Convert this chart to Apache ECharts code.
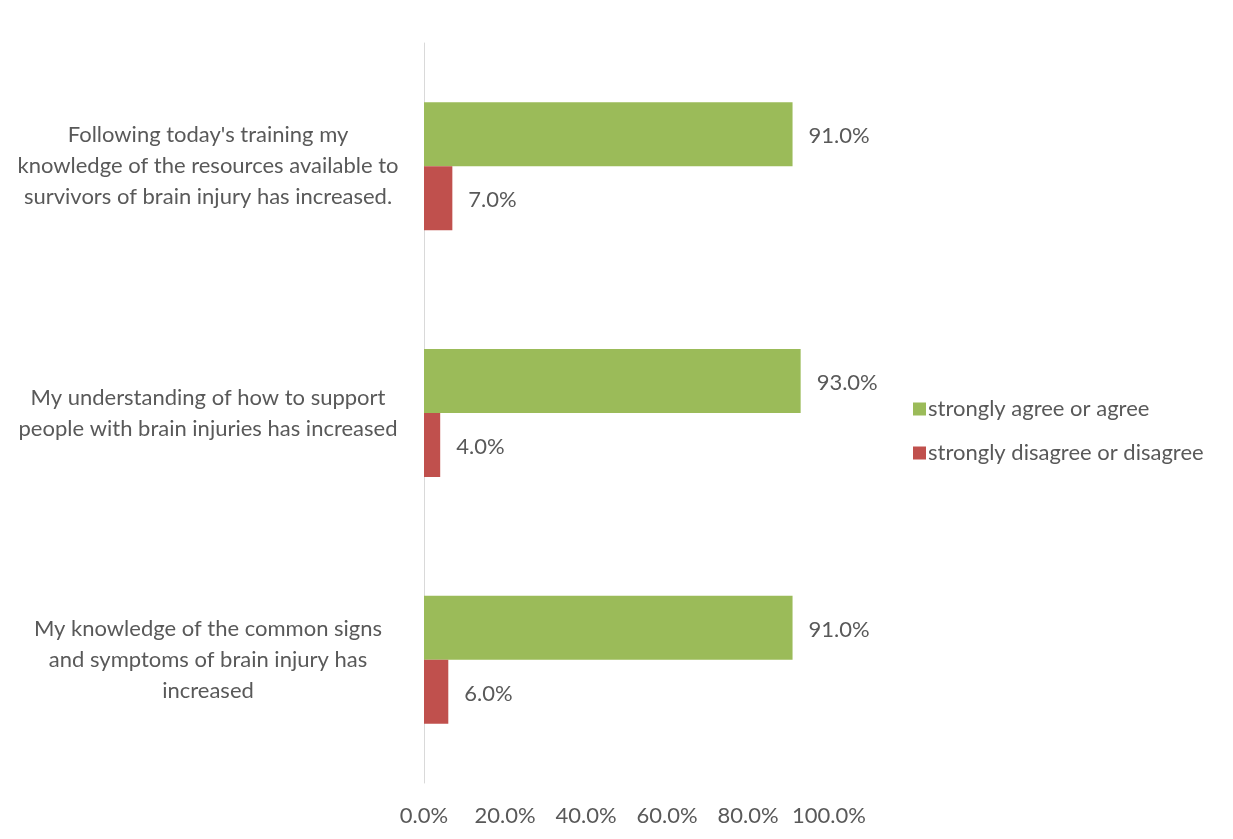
<!DOCTYPE html>
<html>
<head>
<meta charset="utf-8">
<script src="https://cdn.jsdelivr.net/npm/echarts@6/dist/echarts.min.js"></script>
<style>
  html, body { margin: 0; padding: 0; background: #ffffff; }
  #chart { width: 1233px; height: 839px; }
</style>
</head>
<body>
<div id="chart"></div>
<script>
// Survey statements, listed top to bottom
const statements = [
  "Following today's training my\nknowledge of the resources available to\nsurvivors of brain injury has increased.",
  "My understanding of how to support\npeople with brain injuries has increased",
  "My knowledge of the common signs\nand symptoms of brain injury has\nincreased"
];
const seriesNames = ["strongly agree or agree", "strongly disagree or disagree"];
const agreeValues = [91.0, 93.0, 91.0];
const disagreeValues = [7.0, 4.0, 6.0];
const xTicks = [0, 20, 40, 60, 80, 100];

const FONT = "Lato, 'Open Sans', sans-serif";
const TEXT = "#595959";
const FS = 22;

const chart = echarts.init(document.getElementById('chart'), null, { renderer: 'canvas' });

const labelCfg = {
  show: true,
  position: 'right',
  distance: 16,
  offset: [0, 2],
  color: TEXT,
  fontFamily: FONT,
  fontSize: FS,
  formatter: p => p.value.toFixed(1) + '%'
};

chart.setOption({
  backgroundColor: '#ffffff',
  animation: false,
  textStyle: { fontFamily: FONT, color: TEXT },
  grid: { left: 424, right: 404, top: 43, bottom: 56, containLabel: false },
  legend: {
    orient: 'vertical',
    left: 908,
    top: 393,
    itemWidth: 13,
    itemHeight: 13,
    itemGap: 22,
    icon: 'rect',
    textStyle: { color: TEXT, fontFamily: FONT, fontSize: FS, padding: [0, 0, 0, -3] },
    data: seriesNames
  },
  xAxis: {
    type: 'value',
    min: xTicks[0],
    max: xTicks[xTicks.length - 1],
    interval: 20,
    axisLine: { show: false },
    axisTick: { show: false },
    splitLine: { show: false },
    axisLabel: {
      color: TEXT,
      fontFamily: FONT,
      fontSize: FS,
      margin: 22,
      formatter: v => v.toFixed(1) + '%'
    }
  },
  yAxis: {
    type: 'category',
    inverse: true,
    data: statements,
    axisLine: { show: true, lineStyle: { color: '#d9d9d9', width: 1 } },
    axisTick: { show: false },
    axisLabel: {
      color: TEXT,
      fontFamily: FONT,
      fontSize: FS,
      lineHeight: 31,
      align: 'center',
      padding: [6, 0, 0, 0],
      margin: 216
    }
  },
  series: [
    {
      name: seriesNames[0],
      type: 'bar',
      data: agreeValues,
      barWidth: 64,
      barGap: '0%',
      itemStyle: { color: '#9BBB59' },
      label: labelCfg
    },
    {
      name: seriesNames[1],
      type: 'bar',
      data: disagreeValues,
      barWidth: 64,
      barGap: '0%',
      itemStyle: { color: '#C0504D' },
      label: labelCfg
    }
  ]
});
</script>
</body>
</html>
